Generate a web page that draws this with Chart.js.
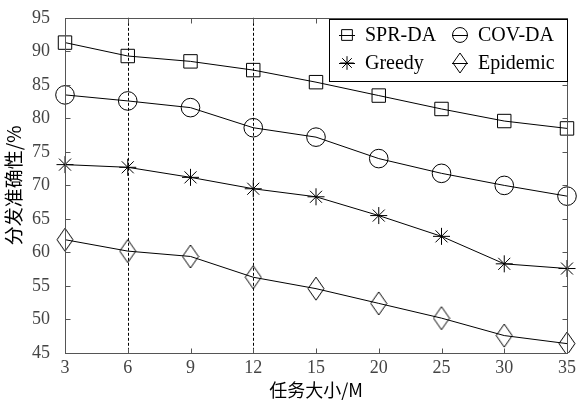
<!DOCTYPE html>
<html>
<head>
<meta charset="utf-8">
<script src="https://cdn.jsdelivr.net/npm/chart.js@4.4.1/dist/chart.umd.min.js"></script>
<style>
  html, body { margin: 0; padding: 0; background: #fff; }
  #wrap { width: 581px; height: 401px; position: relative; }
</style>
</head>
<body>
<div id="wrap"><canvas id="chart"></canvas></div>
<script>
// task size categories (M)
const taskSizes = ['3', '6', '9', '12', '15', '20', '25', '30', '35']
const yTicks = [45, 50, 55, 60, 65, 70, 75, 80, 85, 90, 95]
const markedSizes = ['6', '12']

const sprDA = [91.3, 89.3, 88.5, 87.2, 85.4, 83.4, 81.4, 79.6, 78.5]
const covDA = [83.5, 82.6, 81.6, 78.6, 77.2, 74.0, 71.8, 70.0, 68.4]
const greedy = [73.1, 72.7, 71.2, 69.5, 68.3, 65.5, 62.4, 58.3, 57.6]
const epidemic = [61.9, 60.2, 59.4, 56.3, 54.6, 52.4, 50.2, 47.6, 46.4]

const serif = '"Liberation Serif", "DejaVu Serif", serif'
const cjk = '"Noto Sans CJK SC", "Liberation Serif", sans-serif'

// tall diamond marker like matlab's 'd'
function makeDiamond(w, h) {
  const c = document.createElement('canvas')
  c.width = w + 2
  c.height = h + 2
  const g = c.getContext('2d')
  g.strokeStyle = '#000'
  g.lineWidth = 1
  g.beginPath()
  g.moveTo(c.width / 2, 1)
  g.lineTo(c.width - 1, c.height / 2)
  g.lineTo(c.width / 2, c.height - 1)
  g.lineTo(1, c.height / 2)
  g.closePath()
  g.stroke()
  return c
}
const diamond = makeDiamond(16, 23)
const diamondSmall = makeDiamond(14, 20)

function series(label, data, style, radius, legendStyle) {
  return {
    label: label,
    data: data,
    borderColor: '#000',
    backgroundColor: 'rgba(0,0,0,0)',
    borderWidth: 1,
    pointStyle: style,
    pointRadius: radius,
    pointBorderColor: '#000',
    pointBackgroundColor: 'rgba(0,0,0,0)',
    pointBorderWidth: 1,
    tension: 0,
    legendStyle: legendStyle || style
  }
}

// frame, inward ticks and dotted guides
const framePlugin = {
  id: 'frame',
  beforeDatasetsDraw(chart) {
    const { ctx, chartArea: a, scales: { x } } = chart
    ctx.save()
    ctx.strokeStyle = '#000'
    ctx.lineWidth = 1
    ctx.setLineDash([3, 2])
    markedSizes.forEach(v => {
      const px = Math.round(x.getPixelForValue(taskSizes.indexOf(v))) + 0.5
      ctx.beginPath()
      ctx.moveTo(px, a.top)
      ctx.lineTo(px, a.bottom)
      ctx.stroke()
    })
    ctx.restore()
  },
  afterDraw(chart) {
    const { ctx, chartArea: a, scales: { x, y } } = chart
    const l = Math.round(a.left) + 0.5, r = Math.round(a.right) + 0.5
    const t = Math.round(a.top) + 0.5, b = Math.round(a.bottom) + 0.5
    const len = 5
    ctx.save()
    ctx.strokeStyle = '#555'
    ctx.lineWidth = 1
    ctx.strokeRect(l, t, r - l, b - t)
    ctx.beginPath()
    taskSizes.forEach((v, i) => {
      const px = Math.round(x.getPixelForValue(i)) + 0.5
      ctx.moveTo(px, b); ctx.lineTo(px, b - len)
      ctx.moveTo(px, t); ctx.lineTo(px, t + len)
    })
    yTicks.forEach(v => {
      const py = Math.round(y.getPixelForValue(v)) + 0.5
      ctx.moveTo(l, py); ctx.lineTo(l + len, py)
      ctx.moveTo(r, py); ctx.lineTo(r - len, py)
    })
    ctx.stroke()
    ctx.restore()
  }
}

// boxed two column legend
const legendBox = {
  id: 'legendBox',
  afterDraw(chart) {
    const { ctx } = chart
    const box = { x: 329.5, y: 19.5, w: 238, h: 62 }
    ctx.save()
    ctx.fillStyle = '#fff'
    ctx.fillRect(box.x, box.y, box.w, box.h)
    ctx.strokeStyle = '#000'
    ctx.lineWidth = 1
    ctx.strokeRect(box.x, box.y, box.w, box.h)
    const cols = [347, 460]
    const rows = [35, 63]
    ctx.font = '20px ' + serif
    ctx.textBaseline = 'middle'
    chart.data.datasets.forEach((ds, i) => {
      const cx = cols[i % 2], cy = rows[Math.floor(i / 2)]
      ctx.beginPath()
      ctx.moveTo(cx - 8, cy + 0.5)
      ctx.lineTo(cx + 8, cy + 0.5)
      ctx.stroke()
      ctx.fillStyle = 'rgba(0,0,0,0)'
      Chart.helpers.drawPoint(ctx, {
        pointStyle: ds.legendStyle,
        radius: ds.pointRadius * 0.8,
        borderWidth: 1
      }, cx, cy)
      ctx.fillStyle = '#000'
      ctx.fillText(ds.label, cx + 18, cy + 1)
    })
    ctx.restore()
  }
}

new Chart(document.getElementById('chart'), {
  type: 'line',
  data: {
    labels: taskSizes,
    datasets: [
      series('SPR-DA', sprDA, 'rect', 9.5),
      series('COV-DA', covDA, 'circle', 9.3),
      series('Greedy', greedy, 'star', 8.5),
      series('Epidemic', epidemic, diamond, 10, diamondSmall)
    ]
  },
  options: {
    responsive: true,
    maintainAspectRatio: false,
    animation: false,
    layout: { padding: { left: 0, top: 15, right: 14, bottom: 0 } },
    plugins: {
      legend: { display: false },
      tooltip: { enabled: false }
    },
    scales: {
      x: {
        type: 'category',
        offset: false,
        grid: { display: false },
        border: { display: false },
        ticks: {
          color: '#444',
          font: { family: serif, size: 18 },
          padding: -4,
          maxRotation: 0,
          autoSkip: false
        },
        title: {
          display: true,
          text: '任务大小/M',
          color: '#000',
          font: { family: cjk, size: 18 },
          padding: 0
        },
        afterFit(scale) { scale.height = 48 }
      },
      y: {
        min: 45,
        max: 95,
        grid: { display: false },
        border: { display: false },
        afterBuildTicks(scale) { scale.ticks = yTicks.map(v => ({ value: v })) },
        ticks: {
          color: '#444',
          font: { family: serif, size: 18 },
          padding: 7
        },
        title: {
          display: true,
          text: '分发准确性/%',
          color: '#000',
          font: { family: cjk, size: 19 },
          padding: { top: 2, bottom: 0 }
        },
        afterFit(scale) { scale.width = 65 }
      }
    }
  },
  plugins: [framePlugin, legendBox]
})
</script>
</body>
</html>
